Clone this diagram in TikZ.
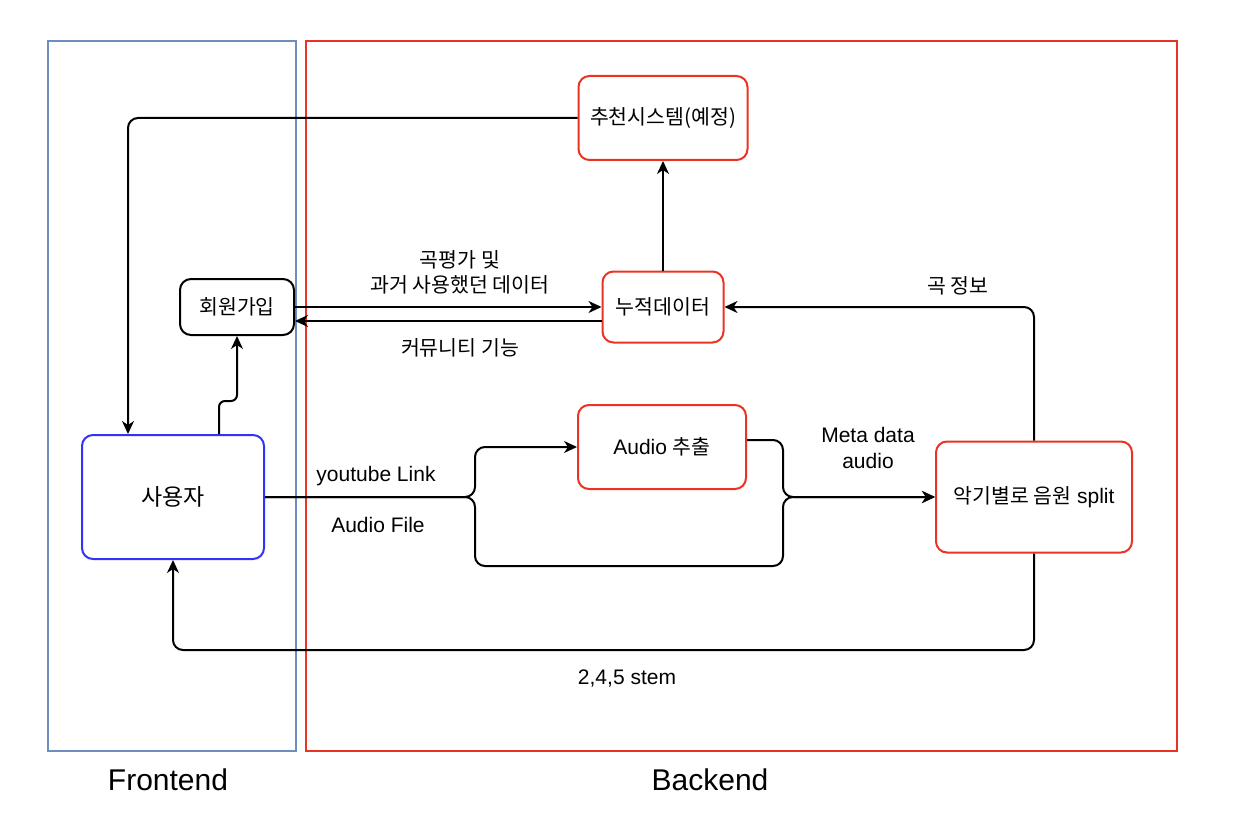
\documentclass[tikz,border=0pt]{standalone}
\usepackage{fontspec}
\setmainfont{Liberation Sans}
\newfontfamily\kr{Noto Sans CJK KR}
\usetikzlibrary{arrows.meta}
\definecolor{fered}{RGB}{234,51,35}
\definecolor{feblue}{RGB}{108,142,191}
\definecolor{userblue}{RGB}{51,51,245}
\newcommand\kor[1]{{\kr\fontsize{20.5}{26}\selectfont #1}}
\begin{document}
\begin{tikzpicture}[x=1pt,y=-1pt,
  box/.style={draw, rounded corners=11pt, line width=2pt, inner sep=0, font=\fontsize{21}{26}\selectfont},
  redbox/.style={box, draw=fered},
  lbl/.style={font=\fontsize{21}{26}\selectfont, align=center, inner sep=0},
  big/.style={font=\fontsize{30}{36}\selectfont, inner sep=0},
  conn/.style={line width=2pt, rounded corners=10pt},
  arr/.style={conn, -{Stealth[length=13pt,width=12pt,inset=4pt]}},
]
\useasboundingbox (0,0) rectangle (1244,826);
\draw[feblue, line width=2.5pt] (48,41) rectangle (296,751);
\draw[fered, line width=2.5pt] (306,41) rectangle (1177,751);
\node[big] (fe) at (168,780) {Frontend};
\node[big] (be) at (710,780) {Backend};

\node[redbox, minimum width=169pt, minimum height=84pt] (rec) at (663,118) {\kor{추천시스템(예정)}};
\node[redbox, minimum width=121pt, minimum height=71pt] (acc) at (663,307) {\kor{누적데이터}};
\node[box, minimum width=114pt, minimum height=56pt] (join) at (237,307) {\kor{회원가입}};
\node[box, draw=userblue, minimum width=182pt, minimum height=124pt] (user) at (173,497) {{\kr\fontsize{23}{28}\selectfont 사용자}};
\node[redbox, minimum width=168pt, minimum height=84pt] (ext) at (662,447) {Audio \kor{추출}};
\node[redbox, minimum width=196pt, minimum height=111pt] (split) at (1034,497) {\kor{악기별로 음원} split};

% connectors
\draw[arr] (rec.west) -| ([xshift=-45pt]user.north);
\draw[arr] (acc.north) -- (rec.south);
\draw[arr] (join.east) -- (acc.west);
\draw[arr] ([yshift=-14pt]acc.west) -- ([yshift=-14pt]join.east);
\draw[arr, rounded corners=6pt] ([xshift=46pt]user.north) -- ++(0,-33) -| (join.south);
\draw[arr] (user.east) -- (475,497) -- (475,447) -- (ext.west);
\draw[arr] (user.east) -- (475,497) -- (475,566) -- (783,566) -- (783,497) -- (split.west);
\draw[arr] ([yshift=7pt]ext.east) -- (783,440) -- (783,497) -- (split.west);
\draw[arr] (split.north) -- (1034,307) -- (acc.east);
\draw[arr] (split.south) -- (1034,650) -- (173,650) -- (user.south);

% labels
\node[lbl] (l1) at (460,272) {\kor{곡평가 및}\\[-1pt]\kor{과거 사용했던 데이터}};
\node[lbl] (l2) at (460,348) {\kor{커뮤니티 기능}};
\node[lbl] (l3) at (958,286) {\kor{곡 정보}};
\node[lbl] (l4) at (868,448) {Meta data\\audio};
\node[lbl] (l5) at (376,476) {youtube Link};
\node[lbl] (l6) at (378,525) {Audio File};
\node[lbl] (l7) at (627,679) {2,4,5 stem};
\end{tikzpicture}
\end{document}
